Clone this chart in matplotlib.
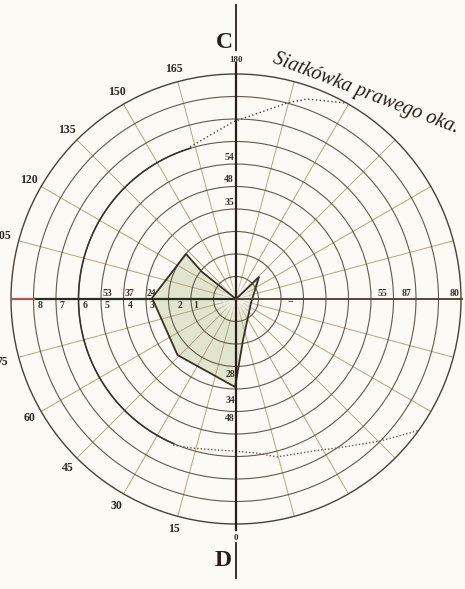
import matplotlib.pyplot as plt
import numpy as np

# Perimeter chart of the right eye: rings every unit, meridians every 15 deg.
# Angles run from the bottom (0) through the left (90) to the top (180).
ring_count = 10
meridian_step = 15
meridian_labels = [0, 15, 30, 45, 60, 75, 90, 105, 120, 135, 150, 165, 180]

# central field (shaded polygon): angle in degrees, radius in ring units
field_theta = [0, 226.3, 284.9, 350.3, 0.6, 46.2, 90.7, 132.0, 128.5, 0]
field_r = [0, 1.41, 0.69, 1.85, 3.91, 3.60, 3.73, 2.99, 1.93, 0]

# outer limit, dotted upper part
upper_theta = [163.2, 179.0, 194.6, 199.5, 209.5]
upper_r = [7.06, 7.87, 9.00, 9.43, 10.0]

# outer limit, dotted lower part
lower_theta = [23.3, 16.1, 1.1, 352.2, 345.5, 330.9, 325.9, 314.6, 305.5]
lower_r = [7.07, 6.90, 6.76, 6.91, 7.25, 7.68, 8.00, 8.99, 10.04]

# outer limit along ring 7 on the temporal side
limit_ring = 7
limit_span = (23.3, 163.2)

# numbers written along the axes: (text, radius)
left_low = [("1", 1.8), ("2", 2.5), ("3", 3.75), ("4", 4.72),
            ("5", 5.72), ("6", 6.72), ("7", 7.72), ("8", 8.72)]
left_high = [("24", 3.75), ("37", 4.72), ("53", 5.72)]
right_high = [("55", 6.5), ("87", 7.6), ("80", 9.7)]
top_vals = [("35", 4.31), ("48", 5.29), ("54", 6.27)]
bottom_vals = [("28", 3.35), ("34", 4.49), ("48", 5.3)]

serif = ['Liberation Serif', 'DejaVu Serif']
paper = '#fbfaf5'
ring_col = '#64584a'
spoke_col = '#b3a47e'
ink = '#2a1e16'

W, H = 465, 589
cx, cy, R = 236, 299, 225

fig = plt.figure(figsize=(W / 100, H / 100), dpi=100)
fig.patch.set_facecolor(paper)
ax = fig.add_axes([(cx - R) / W, (H - cy - R) / H, 2 * R / W, 2 * R / H],
                  projection='polar')
ax.set_facecolor(paper)
ax.set_theta_zero_location('S')
ax.set_theta_direction(-1)
ax.set_ylim(0, ring_count)

# grid: rings and meridians
ax.set_rgrids(np.arange(1, ring_count), labels=[])
ax.set_thetagrids(np.arange(0, 360, meridian_step), labels=[])
ax.yaxis.grid(True, color=ring_col, lw=0.8)
ax.xaxis.grid(True, color=spoke_col, lw=0.7)
ax.spines['polar'].set_color('#4a4035')
ax.spines['polar'].set_linewidth(1.0)
ax.tick_params(length=0)

# shaded central field
th = np.radians(field_theta)
ax.fill(th, field_r, color='#e1e5d0', zorder=1)
ax.plot(th, field_r, color='#3a3028', lw=1.3, zorder=4)

# pale spot where the meridians meet
full = np.linspace(0, 2 * np.pi, 100)
for rad, a in [(0.9, 0.25), (0.6, 0.35), (0.35, 0.5)]:
    ax.fill(full, np.full_like(full, rad), color='white', alpha=a, lw=0,
            zorder=3)

# outer limit of the field
arc = np.radians(np.linspace(limit_span[0], limit_span[1], 200))
ax.plot(arc, np.full_like(arc, limit_ring), color='#3a3028', lw=1.15, zorder=3)
ax.plot(np.radians(upper_theta), upper_r, color='#4d4540', lw=1.0,
        ls=(0, (1, 1.8)), zorder=3)
ax.plot(np.radians(lower_theta), lower_r, color='#6a5a50', lw=1.0,
        ls=(0, (1, 1.5)), zorder=3)

# main axes through the centre
ax.plot([np.pi, 0], [10.5, 10.27], color=ink, lw=1.6, zorder=5, clip_on=False)
ax.plot([np.pi / 2, np.pi / 2], [0, 9.0], color='#26301f', lw=1.6, zorder=5)
ax.plot([np.pi / 2, np.pi / 2], [9.0, 10.0], color='#a05a55', lw=1.6, zorder=5)
ax.plot([3 * np.pi / 2, 3 * np.pi / 2], [0, 10.05], color='#5a4535', lw=1.4,
        zorder=5, clip_on=False)
ax.plot([np.pi, np.pi], [11.07, 13.07], color=ink, lw=1.3, clip_on=False)
ax.plot([0, 0], [10.84, 12.4], color=ink, lw=1.3, clip_on=False)

# meridian numbers round the rim
for deg in meridian_labels:
    fs = 6.5 if deg in (0, 180) else 8.5
    r = 10.75 if 70 < deg < 110 else 10.6
    ax.text(np.radians(deg), r, str(deg), ha='center', va='center',
            fontsize=fs, weight='bold', family=serif, color='#2e2620',
            clip_on=False)


def axis_note(s, deg, r, dx, dy, ha='center', fs=7):
    ax.annotate(s, xy=(np.radians(deg), r), xytext=(dx, dy),
                textcoords='offset pixels', ha=ha, va='center', fontsize=fs,
                weight='bold', family=serif, color='#3a3028', zorder=6)


for s, r in left_low:
    axis_note(s, 90, r, 0, -7)
for s, r in left_high:
    axis_note(s, 90, r, 0, 6)
for s, r in right_high:
    axis_note(s, 270, r, 0, 6)
axis_note("=", 270, 2.4, 0, -2, fs=7)
for s, r in top_vals:
    axis_note(s, 180, r, -2, 0, ha='right')
for s, r in bottom_vals:
    axis_note(s, 0, r, -1, 0, ha='right')

fig.text(224 / W, 1 - 42 / H, 'C', ha='center', va='center', fontsize=17,
         weight='bold', family=serif, color=ink)
fig.text(223 / W, 1 - 560 / H, 'D', ha='center', va='center', fontsize=17,
         weight='bold', family=serif, color=ink)
fig.text(272 / W, 1 - 62 / H, 'Siatkówka prawego oka.', rotation=-21,
         rotation_mode='anchor', ha='left', va='baseline', fontsize=14.5,
         style='italic', family=serif, color=ink)

fig.savefig('out.png', dpi=100, facecolor=paper)
